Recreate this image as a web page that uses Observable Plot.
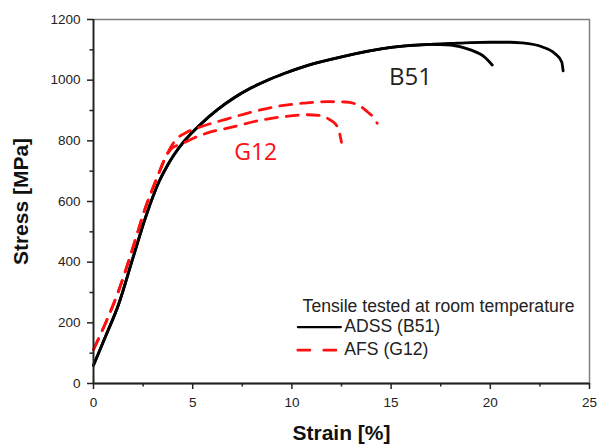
<!DOCTYPE html>
<html>
<head>
<meta charset="utf-8">
<script src="https://cdn.jsdelivr.net/npm/d3@7"></script>
<script src="https://cdn.jsdelivr.net/npm/@observablehq/plot@0.6"></script>
<style>
  html, body { margin: 0; padding: 0; background: #fff; }
  #chart { width: 598px; height: 447px; }
</style>
</head>
<body>
<div id="chart"></div>
<script>
// ---- data ----
const strainB51a = [0, 0.6, 1.28, 1.95, 2.63, 3.3, 3.72, 4.06, 4.56, 5.4, 6.25, 7.09, 7.93, 8.77, 9.61, 10.8, 12.5, 15, 17, 18, 18.6, 19.04, 19.7, 20.1];
const stressB51a = [60, 154, 264, 406, 549, 665, 718, 754, 798, 855, 903, 942, 974, 1000, 1022, 1049, 1077, 1108, 1118, 1116, 1108, 1099, 1077, 1050];
const strainB51b = [0, 0.6, 1.28, 1.95, 2.63, 3.3, 3.72, 4.06, 4.56, 5.4, 6.25, 7.09, 7.93, 8.77, 9.61, 10.8, 12.5, 15, 17, 18, 19, 20, 21, 21.57, 22.6, 23.25, 23.6, 23.67];
const stressB51b = [60, 154, 264, 406, 549, 665, 718, 754, 798, 855, 903, 942, 974, 1000, 1022, 1049, 1077, 1108, 1118, 1121, 1124, 1125, 1125, 1123, 1110, 1088, 1060, 1031];
const strainG12a = [0, 0.6, 1.28, 1.95, 2.63, 3.22, 3.64, 4.0, 4.22, 4.7, 5.35, 6.67, 7.93, 9.3, 10.55, 11.75, 12.7, 13.1, 13.5, 13.8, 14.1, 14.3];
const stressG12a = [112, 198, 308, 440, 582, 681, 747, 790, 808, 828, 845, 871, 894, 914, 924, 929, 928, 924, 912, 896, 878, 858];
const strainG12b = [0, 0.6, 1.28, 1.95, 2.63, 3.22, 3.64, 4.0, 4.39, 5.0, 5.75, 6.97, 8.2, 9.6, 10.75, 11.4, 11.9, 12.2, 12.35, 12.5];
const stressG12b = [112, 198, 308, 440, 582, 681, 747, 778, 788, 808, 826, 845, 865, 880, 886, 884, 870, 855, 838, 795];

const xMajor = [0, 5, 10, 15, 20, 25];
const xMinor = [2.5, 7.5, 12.5, 17.5, 22.5];
const yMajor = [0, 200, 400, 600, 800, 1000, 1200];
const yMinor = [100, 300, 500, 700, 900, 1100];

const legendTitle = "Tensile tested at room temperature";
const legendNames = ["ADSS (B51)", "AFS (G12)"];
const labelB51 = "B51";
const labelG12 = "G12";

// ---- tables built from the arrays ----
const rows = (sx, sy, id) => sx.map((x, i) => ({strain: x, stress: sy[i], id}));
const black = [...rows(strainB51a, stressB51a, "a"), ...rows(strainB51b, stressB51b, "b")];
const red = [...rows(strainG12a, stressG12a, "a"), ...rows(strainG12b, stressG12b, "b")];

// legend placement (data units)
const legX0 = 10.3, legX1 = 12.47, legTextX = 12.64;
const legendRows = [{x: legX0, y: 186}, {x: legX1, y: 186}];
const legendRowsRed = [{x: legX0, y: 110}, {x: legX1, y: 110}];

const RED = "#ff1010";
const font = "'Liberation Sans', Arial, sans-serif";

const chart = Plot.plot({
  width: 598,
  height: 447,
  marginLeft: 93,
  marginRight: 9,
  marginTop: 19,
  marginBottom: 64,
  style: {fontFamily: font, fontSize: "13.5px", color: "#222", background: "#fff"},
  x: {domain: [0, 25], axis: null},
  y: {domain: [0, 1200], axis: null},
  marks: [
    Plot.frame({stroke: "#808080", strokeWidth: 1.5}),
    Plot.line(black, {x: "strain", y: "stress", z: "id", stroke: "#000", strokeWidth: 2.8, curve: "monotone-x"}),
    Plot.line(red, {x: "strain", y: "stress", z: "id", stroke: RED, strokeWidth: 2.8, strokeDasharray: "12,9", curve: "monotone-x"}),
    Plot.ruleX([0], {stroke: "#222", strokeWidth: 1.8}),
    Plot.ruleY([0], {stroke: "#222", strokeWidth: 1.8}),
    Plot.axisX({ticks: xMajor, tickSize: 6, tickPadding: 8, tickFormat: d => String(d), label: null, stroke: "#222", strokeWidth: 1.5}),
    Plot.axisX({ticks: xMinor, tickSize: 3.5, tickFormat: () => "", label: null, stroke: "#222", strokeWidth: 1.5}),
    Plot.axisY({ticks: yMajor, tickSize: 6, tickPadding: 7, tickFormat: d => String(d), label: null, stroke: "#222", strokeWidth: 1.5}),
    Plot.axisY({ticks: yMinor, tickSize: 3.5, tickFormat: () => "", label: null, stroke: "#222", strokeWidth: 1.5}),
    // axis titles
    Plot.text(["Stress [MPa]"], {text: d => d, frameAnchor: "left", textAnchor: "middle", rotate: -90, dx: -66, lineAnchor: "bottom", fontSize: 21, fontWeight: "bold", fill: "#111"}),
    Plot.text(["Strain [%]"], {text: d => d, frameAnchor: "bottom", textAnchor: "middle", dy: 56, lineAnchor: "bottom", fontSize: 21, fontWeight: "bold", fill: "#111"}),
    // in-plot labels
    Plot.text([labelB51], {x: 14.9, y: 983, text: d => d, textAnchor: "start", lineAnchor: "bottom", fontSize: 24, fontFamily: "'Open Sans', sans-serif", fill: "#222"}),
    Plot.text([labelG12], {x: 7.09, y: 736, text: d => d, textAnchor: "start", lineAnchor: "bottom", fontSize: 23, fontFamily: "'Open Sans', sans-serif", fill: RED}),
    // legend
    Plot.text([legendTitle], {x: 10.54, y: 236, text: d => d, textAnchor: "start", lineAnchor: "bottom", fontSize: 17.6, fill: "#222"}),
    Plot.line(legendRows, {x: "x", y: "y", stroke: "#000", strokeWidth: 2.2}),
    Plot.line(legendRowsRed, {x: "x", y: "y", stroke: RED, strokeWidth: 2.8, strokeDasharray: "12,14"}),
    Plot.text([legendNames[0]], {x: legTextX, y: 170, text: d => d, textAnchor: "start", lineAnchor: "bottom", fontSize: 17.6, fill: "#222"}),
    Plot.text([legendNames[1]], {x: legTextX, y: 95, text: d => d, textAnchor: "start", lineAnchor: "bottom", fontSize: 17.6, fill: "#222"})
  ]
});
document.getElementById("chart").appendChild(chart);
</script>
</body>
</html>
